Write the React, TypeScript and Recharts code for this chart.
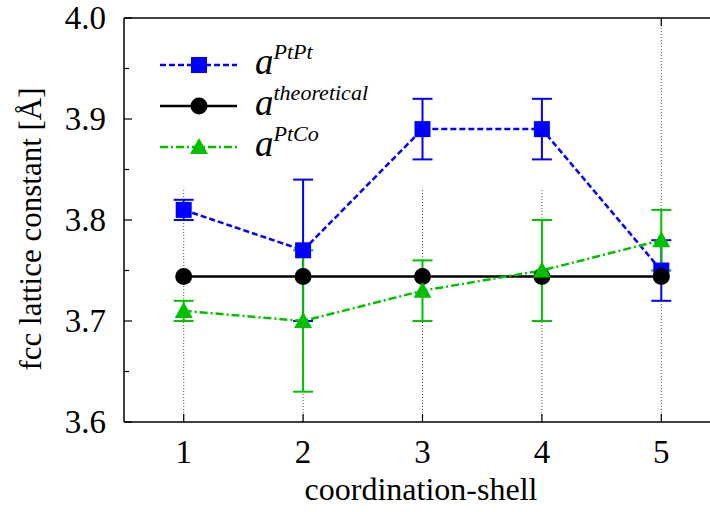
import React from "react"
import { LineChart, Line, XAxis, YAxis, ErrorBar, ReferenceLine, Legend, Label } from "recharts"

const shells = [1, 2, 3, 4, 5]
const ptPt = [3.81, 3.77, 3.89, 3.89, 3.75]
const ptPtErr = [0.01, 0.07, 0.03, 0.03, 0.03]
const theoretical = [3.744, 3.744, 3.744, 3.744, 3.744]
const ptCo = [3.71, 3.7, 3.73, 3.75, 3.78]
const ptCoErr = [0.01, 0.07, 0.03, 0.05, 0.03]
const yTicks = [3.6, 3.65, 3.7, 3.75, 3.8, 3.85, 3.9, 3.95, 4.0]
// the opaque key box hides the grid above this value, except at shell 5
const gridTop = [3.83, 3.83, 3.83, 3.83, 4.0]

const data = shells.map((s, i) => ({
  shell: s,
  ptPt: ptPt[i],
  ptPtErr: ptPtErr[i],
  theo: theoretical[i],
  ptCo: ptCo[i],
  ptCoErr: ptCoErr[i],
}))

const FONT = "'Liberation Serif', 'Times New Roman', serif"
const BLUE = "#0000ff"
const GREEN = "#00c000"

const Square = (p: any) => (
  <rect key={`sq-${p.index}`} x={p.cx - 8} y={p.cy - 8} width={16} height={16} fill={BLUE} />
)
const Circle = (p: any) => <circle key={`ci-${p.index}`} cx={p.cx} cy={p.cy} r={8.5} fill="#000" />
const Triangle = (p: any) => (
  <polygon
    key={`tr-${p.index}`}
    points={`${p.cx},${p.cy - 9} ${p.cx - 9},${p.cy + 7} ${p.cx + 9},${p.cy + 7}`}
    fill={GREEN}
  />
)

const YTick = (p: any) => {
  const v = p.payload.value
  const major = Math.abs(v * 10 - Math.round(v * 10)) < 1e-6
  return (
    <g>
      <line x1={p.x} x2={p.x + (major ? 8 : 5)} y1={p.y} y2={p.y} stroke="#000" strokeWidth={1.2} />
      {major && (
        <text x={p.x - 18} y={p.y} dy={11} textAnchor="end" fontFamily={FONT} fontSize={33} fill="#000">
          {v.toFixed(1)}
        </text>
      )}
    </g>
  )
}

const XTick = (p: any) => (
  <g>
    <line x1={p.x} x2={p.x} y1={p.y} y2={p.y - 8} stroke="#000" strokeWidth={1.2} />
    {p.payload.value === 5 && (
      <line x1={p.x} x2={p.x} y1={18} y2={26} stroke="#000" strokeWidth={1.2} />
    )}
    <text x={p.x} y={p.y + 41} textAnchor="middle" fontFamily={FONT} fontSize={33} fill="#000">
      {p.payload.value}
    </text>
  </g>
)

const keyRows = [
  { sup: "PtPt", stroke: BLUE, dash: "6 3", marker: "square" },
  { sup: "theoretical", stroke: "#000", dash: undefined, marker: "circle" },
  { sup: "PtCo", stroke: GREEN, dash: "8 3 2 3", marker: "triangle" },
]

function KeyBox() {
  return (
    <svg width={260} height={130} style={{ display: "block" }}>
      {keyRows.map((r, i) => {
        const y = 25 + i * 41
        return (
          <g key={r.sup}>
            <line x1={10} x2={87} y1={y} y2={y} stroke={r.stroke} strokeWidth={2.5} strokeDasharray={r.dash} />
            {r.marker === "square" && <Square cx={49} cy={y} index={i} />}
            {r.marker === "circle" && <Circle cx={49} cy={y} index={i} />}
            {r.marker === "triangle" && <Triangle cx={49} cy={y} index={i} />}
            <text x={105} y={y + 9} fontFamily={FONT} fontStyle="italic" fill="#000">
              <tspan fontSize={37}>a</tspan>
              <tspan fontSize={22} dy={-15}>
                {r.sup}
              </tspan>
            </text>
          </g>
        )
      })}
    </svg>
  )
}

export default function App() {
  return (
    <div style={{ position: "fixed", left: 0, top: 0, width: 710, height: 512, overflow: "hidden", background: "#fff" }}>
      <LineChart width={730} height={512} data={data} margin={{ top: 18, right: 9, left: 0, bottom: 0 }}>
        {shells.map((s, i) => (
          <ReferenceLine
            key={`g-${s}`}
            segment={[
              { x: s, y: 3.6 },
              { x: s, y: gridTop[i] },
            ]}
            stroke="#555"
            strokeWidth={1}
            strokeDasharray="1 2"
          />
        ))}
        <ReferenceLine y={4.0} stroke="#000" strokeWidth={1.5} />
        <XAxis
          dataKey="shell"
          type="number"
          domain={[0.5, 5.5]}
          ticks={shells}
          height={90}
          tickSize={0}
          tickMargin={0}
          tickLine={false}
          tick={<XTick />}
          axisLine={{ stroke: "#000", strokeWidth: 1.5 }}
        >
          <Label
            content={() => (
              <text x={421} y={500} textAnchor="middle" fontFamily={FONT} fontSize={32} fill="#000">
                coordination-shell
              </text>
            )}
          />
        </XAxis>
        <YAxis
          type="number"
          domain={[3.6, 4.0]}
          ticks={yTicks}
          width={124}
          tickSize={0}
          tickMargin={0}
          tickLine={false}
          tick={<YTick />}
          axisLine={{ stroke: "#000", strokeWidth: 1.5 }}
        >
          <Label
            content={() => (
              <text
                x={0}
                y={0}
                transform="translate(41 229) rotate(-90)"
                textAnchor="middle"
                fontFamily={FONT}
                fontSize={31}
                fill="#000"
              >
                fcc lattice constant [Å]
              </text>
            )}
          />
        </YAxis>
        <Legend
          layout="horizontal"
          verticalAlign="middle"
          align="center"
          wrapperStyle={{ left: 150, top: 40, width: 260 }}
          content={() => <KeyBox />}
        />
        <Line
          dataKey="ptPt"
          stroke={BLUE}
          strokeWidth={2.5}
          strokeDasharray="6 3"
          dot={Square}
          activeDot={false}
          isAnimationActive={false}
        >
          <ErrorBar dataKey="ptPtErr" direction="y" width={10} stroke={BLUE} strokeWidth={2} />
        </Line>
        <Line
          dataKey="theo"
          stroke="#000"
          strokeWidth={2.5}
          dot={Circle}
          activeDot={false}
          isAnimationActive={false}
        />
        <Line
          dataKey="ptCo"
          stroke={GREEN}
          strokeWidth={2.5}
          strokeDasharray="8 3 2 3"
          dot={Triangle}
          activeDot={false}
          isAnimationActive={false}
        >
          <ErrorBar dataKey="ptCoErr" direction="y" width={10} stroke={GREEN} strokeWidth={2} />
        </Line>
      </LineChart>
    </div>
  )
}
